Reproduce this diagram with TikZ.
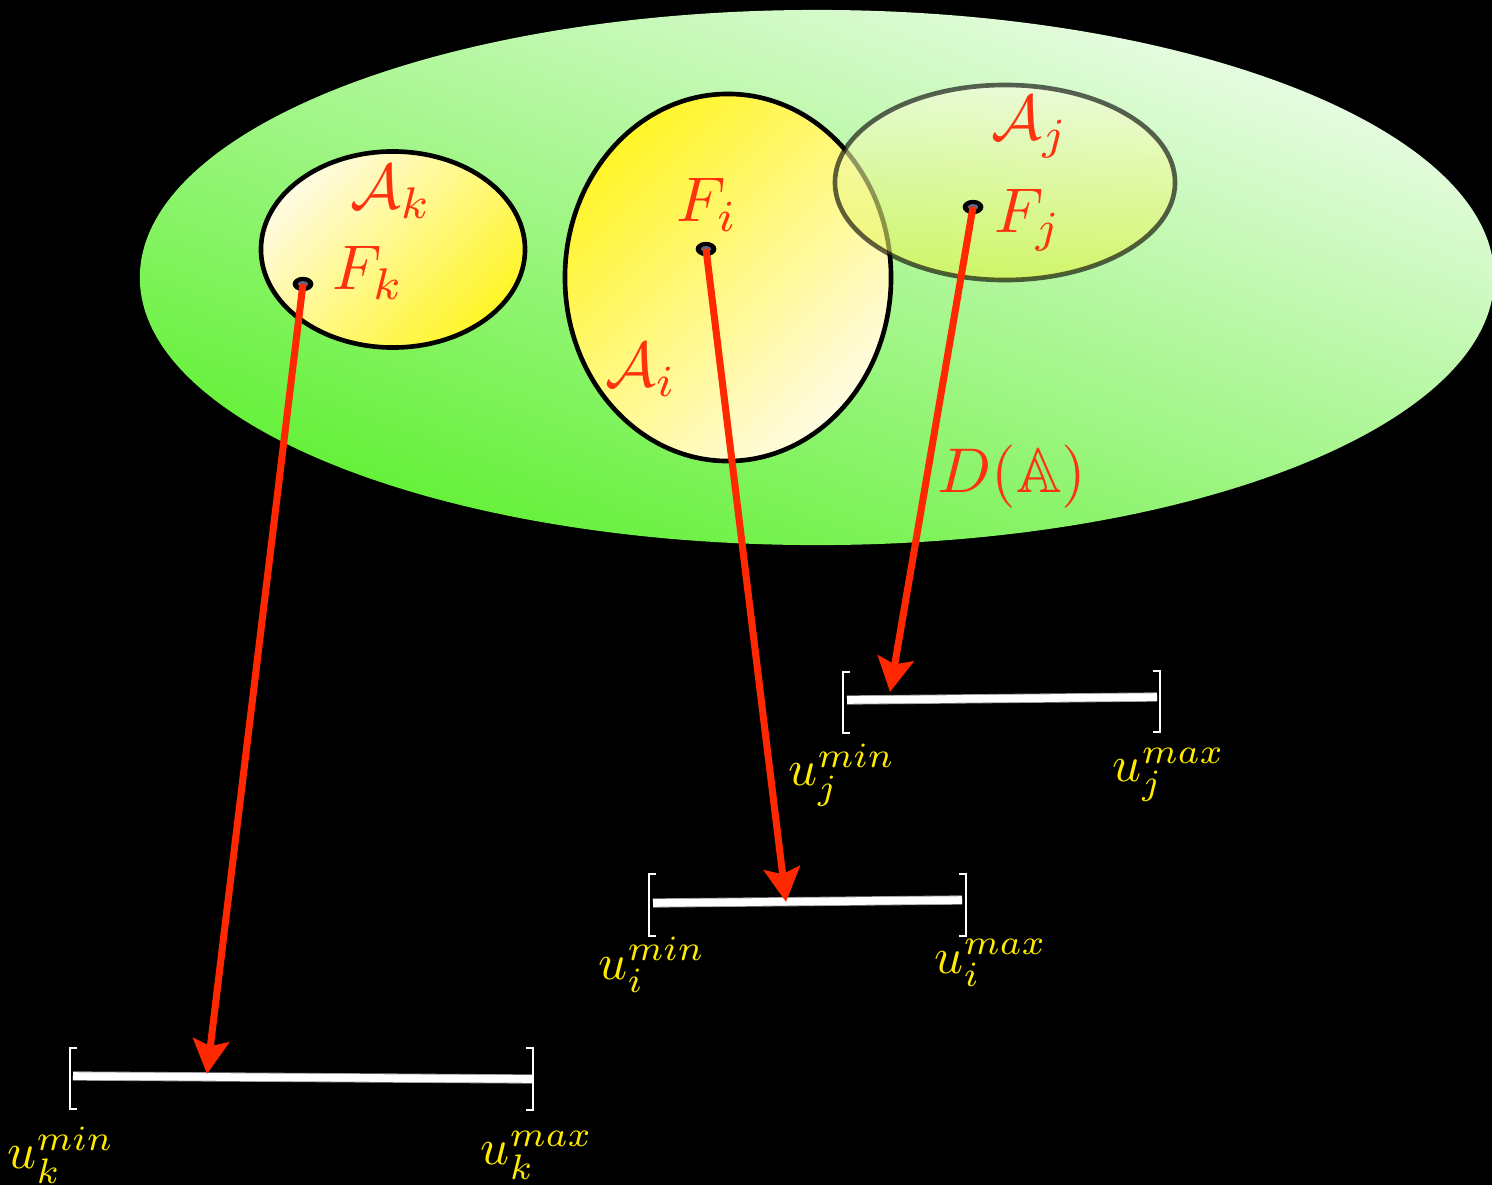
\documentclass[tikz,border=0pt]{standalone}
\usepackage{amssymb}
\usetikzlibrary{arrows.meta}
\definecolor{lblred}{RGB}{255,50,15}
\definecolor{arrred}{RGB}{255,40,0}
\definecolor{uyel}{RGB}{255,235,0}
\definecolor{gtop}{RGB}{236,252,232}
\definecolor{gbot}{RGB}{95,240,50}
\definecolor{ylight}{RGB}{255,251,226}
\definecolor{ystrong}{RGB}{255,245,40}
\definecolor{jtop}{RGB}{248,252,225}
\definecolor{jbot}{RGB}{228,245,70}
\definecolor{dotin}{RGB}{95,105,135}
\definecolor{bargray}{RGB}{150,150,150}
\tikzset{
  bigl/.style={text=lblred, inner sep=0pt, scale=4.5},
  ulbl/.style={text=uyel, inner sep=0pt, scale=3.6},
  setline/.style={draw=black, line width=3.3pt},
  arr/.style={draw=arrred, line width=5pt, -{Stealth[length=0.85cm, width=0.9cm, inset=0.15cm]}},
  barunder/.style={draw=bargray, line width=6.6pt},
  barline/.style={draw=white, line width=5.4pt},
  brack/.style={draw=white, line width=2pt},
}
\begin{document}
\begin{tikzpicture}[x=0.025cm, y=-0.025cm]
\fill[black] (0,0) rectangle (1492,1185);
\useasboundingbox (0,0) rectangle (1492,1185);

% big domain
\shade[top color=gtop, bottom color=gbot, shading angle=-20]
  (817,277.5) ellipse [x radius=16.925cm, y radius=6.6875cm];

% subsets
\path[setline, top color=ylight, bottom color=ystrong, shading angle=45]
  (393,249.5) ellipse [x radius=3.3cm, y radius=2.45cm];
\path[setline, top color=ystrong, bottom color=ylight, shading angle=45]
  (728,277.5) ellipse [x radius=4.075cm, y radius=4.5875cm];
\path[draw=black, draw opacity=0.62, line width=3.3pt, top color=jtop, bottom color=jbot, fill opacity=0.6]
  (1005,182.5) ellipse [x radius=4.25cm, y radius=2.4375cm];

% labels
\node[bigl] (Ak) at (391,192) {$\mathcal{A}_k$};
\node[bigl] (Fk) at (368,273) {$F_k$};
\node[bigl] (Fi) at (707,205) {$F_i$};
\node[bigl] (Ai) at (641,370) {$\mathcal{A}_i$};
\node[bigl] (Aj) at (1030,127) {$\mathcal{A}_j$};
\node[bigl] (Fj) at (1028,220) {$F_j$};
\node[bigl] (DA) at (1012,477) {$D(\mathbb{A})$};

% points
\coordinate (pk) at (303,284);
\coordinate (pi) at (706,249);
\coordinate (pj) at (973,207);
\foreach \p in {pk,pi,pj}{
  \fill[black] (\p) ellipse [x radius=0.26cm, y radius=0.18cm];
  \fill[dotin] (\p) ellipse [x radius=0.13cm, y radius=0.075cm];
}

% intervals
\draw[barunder] (73,1076) -- (532,1079);
\draw[barline] (73,1076) -- (532,1079);
\draw[brack] (77,1048) -- (70,1048) -- (70,1109) -- (77,1109);
\draw[brack] (526,1048) -- (533,1048) -- (533,1110) -- (526,1110);

\draw[barunder] (653,903) -- (962,900);
\draw[barline] (653,903) -- (962,900);
\draw[brack] (656,874) -- (649,874) -- (649,936) -- (656,936);
\draw[brack] (959,874) -- (966,874) -- (966,936) -- (959,936);

\draw[barunder] (847,700) -- (1157,697);
\draw[barline] (847,700) -- (1157,697);
\draw[brack] (850,672) -- (843,672) -- (843,733) -- (850,733);
\draw[brack] (1153,671) -- (1160,671) -- (1160,732) -- (1153,732);

\node[ulbl] (ukmin) at (61,1155) {$u_k^{min}$};
\node[ulbl] (ukmax) at (537,1155) {$u_k^{max}$};
\node[ulbl] (uimin) at (652,965) {$u_i^{min}$};
\node[ulbl] (uimax) at (991,963) {$u_i^{max}$};
\node[ulbl] (ujmin) at (842,775) {$u_j^{min}$};
\node[ulbl] (ujmax) at (1169,775) {$u_j^{max}$};

% arrows
\coordinate (tk) at (207,1074);
\coordinate (ti) at (786,902);
\coordinate (tj) at (890,692);
\draw[arr] (pk) -- (tk);
\draw[arr] (pi) -- (ti);
\draw[arr] (pj) -- (tj);
\end{tikzpicture}
\end{document}
